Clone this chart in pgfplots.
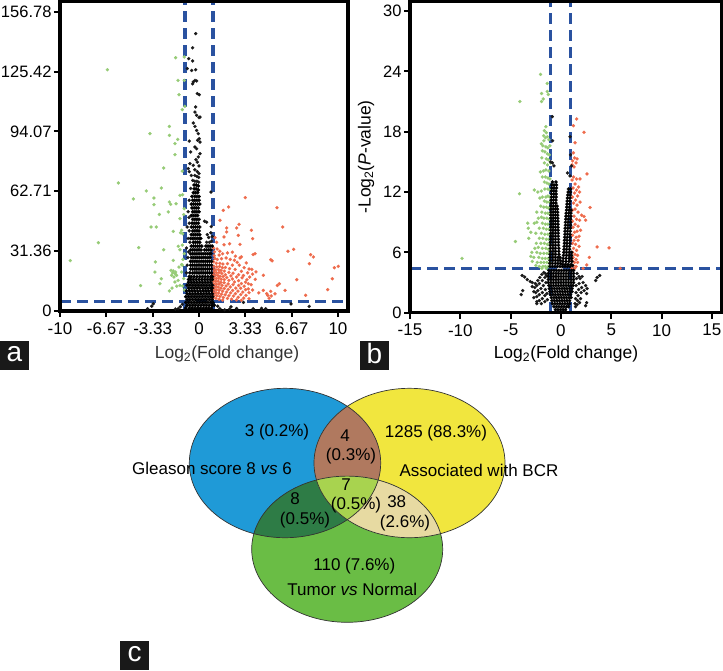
\documentclass[border=0pt]{standalone}
\usepackage{fontspec}
\setmainfont{Liberation Sans}
\usepackage{pgfplots}
\pgfplotsset{compat=1.18}

\definecolor{upred}{HTML}{EE6B4C}
\definecolor{downgreen}{HTML}{96CB76}
\definecolor{cutblue}{HTML}{2A52A0}
\definecolor{vblue}{HTML}{1F9AD7}
\definecolor{vyellow}{HTML}{F1E63E}
\definecolor{vgreen}{HTML}{6ABD45}
\definecolor{vbrown}{HTML}{B0795F}
\definecolor{vdark}{HTML}{2E7C46}
\definecolor{vpale}{HTML}{E7DAA2}
\definecolor{vmid}{HTML}{A8D34F}

\pgfplotsset{
  volcano/.style={
    scale only axis,
    axis line style={line width=3.2pt},
    axis on top,
    tick style={line width=2pt,black},
    major tick length=6pt,
    tick align=outside,
    xtick pos=bottom,
    ytick pos=left,
    clip=true,
    x tick label style={font=\fontsize{17}{19}\selectfont,yshift=-2pt},
    y tick label style={font=\fontsize{16.5}{19}\selectfont,xshift=1pt},
    xlabel style={font=\fontsize{17.5}{20}\selectfont},
    ylabel style={font=\fontsize{17.5}{20}\selectfont},
  },
  upset/.style={only marks,mark=*,mark size=1.6pt,mark options={draw=upred,line width=0.2pt,fill=upred}},
  downset/.style={only marks,mark=*,mark size=1.6pt,mark options={draw=downgreen,line width=0.2pt,fill=downgreen}},
  nssparse/.style={only marks,mark=*,mark size=1.6pt,mark options={draw=black!90,line width=0.2pt,fill=black!90}},
  nsdense/.style={only marks,mark=*,mark size=#1,mark options={draw=black,line width=0.2pt,fill=black}},
  cutline/.style={no marks,cutblue,line width=3.6pt,dash pattern=on 11pt off 6pt},
}

\begin{document}
\begin{tikzpicture}
\path[use as bounding box] (0,0) rectangle (723pt,670pt);

% panel a
\begin{axis}[volcano,
  at={(60pt,359pt)},anchor=south west,
  width=288pt,height=310pt,
  xmin=-10,xmax=10.72,ymin=0,ymax=162.4,
  xtick={-10,-6.67,-3.33,0,3.33,6.67,10},
  xticklabels={-10,-6.67,-3.33,0,3.33,6.67,10},
  ytick={0,31.36,62.71,94.07,125.42,156.78},
  yticklabels={0,31.36,62.71,94.07,125.42,156.78},
  xlabel={\textcolor{black!80}{Log\textsubscript{2}(Fold change)}},
  xlabel style={at={(axis description cs:0.58,-0.139)},anchor=center},
]
\addplot[downset] coordinates {
(-6.59,126.4)(-1.68,132.7)(-1.06,133.1)(-1.51,120.8)(-1.06,120.8)(-1.44,113.3)(-1.2,105.5)(-1.02,107.2)
(-3.53,92.9)(-2.13,96.7)(-2.13,92)(-1.53,89.9)(-1.73,87.7)(-1.73,81.9)(-2.54,74.9)(-1.2,73.3)
(-5.8,67.1)(-2.71,64.4)(-3.79,62.9)(-4.72,58.7)(-3.24,59.2)(-3.24,55.7)(-2.13,57.1)(-2.04,55.9)
(-1.65,56.2)(-1.37,60.6)(-1.18,60.9)(-2.85,50.6)(-2.21,51.9)(-1.37,48.4)(-1.06,53.6)(-1.1,50.5)(-3.45,44)
(-3.07,44)(-1.85,41.7)(-1.25,42.3)(-1.18,40.5)(-1.33,41)(-7.24,35.8)(-4.34,33.2)(-2.54,32.1)(-1.49,33.9)
(-1.37,32.1)(-1.06,30)(-1.2,34.5)(-9.26,26.4)(-3.14,25.7)(-1.85,26.5)(-1.25,24.3)(-1.44,23)(-3.17,20.4)
(-2.01,21.3)(-1.85,21)(-1.68,20.4)(-1.97,18.7)(-1.8,17.8)(-1.61,18.7)(-1.25,20.4)(-2.71,16.9)
(-1.73,15.2)(-1.37,13.4)(-1.18,13.1)(-4.2,13.3)(-2.81,14.3)(-1.94,12)(-2.13,10.5)(-1.72,19.5)(-1.9,20)
(-1.15,27)(-1.1,17)(-1.5,16)(-1.05,11)(-1.2,24)(-1.6,13)
};
\addplot[upset] coordinates {
(3.33,59.4)(5.61,54.1)(2.13,54.5)(1.75,52.7)(6.02,44)(2.88,45.4)(2.71,43.5)(1.99,43.5)(1.51,47.5)
(3.77,42.3)(1.99,41.4)(1.8,38.8)(2.83,39.6)(3.86,37.9)(1.15,38.4)(1.27,36)(1.8,34.7)(2.2,35.2)(2.95,34.9)
(6.81,32.3)(6.4,31.3)(8.03,29.5)(8.23,28.3)(7.94,24.8)(10.02,23.4)(9.74,22.7)(9.59,16.9)(9.26,11.2)
(4.03,30)(3.9,29.6)(5.16,26.9)(5.26,26.3)(4.63,18.7)(7.03,16.4)(5.78,14.3)(5.64,13.4)(4.63,10.8)(4.87,9.1)
(5.16,10.3)(5.47,9)(5.05,6.7)(6.19,10.8)(7.67,8.2)(5.2,7.9)(4.95,8.1)(3.55,14.3)
(1.05,33)(1.12,31)(1.3,32.5)(1.5,31.3)(1.1,29)(1.45,29.3)(1.7,30)(2.05,30.4)(2.4,30.8)(2.62,28.7)(2.95,27.8)(3.05,28.4)
(1.15,27.5)(1.32,27)(1.62,27.4)(1.95,27.8)(2.25,27)(2.55,26.6)(2.75,25.5)(3.4,25.2)(3.6,22)
(1.05,25.8)(1.25,25)(1.5,25)(1.72,24.6)(2.05,24.8)(2.4,24)(2.9,24)(3.25,22.7)(3.8,21.8)(4.1,20.5)
(1.08,23.4)(1.28,23.1)(1.48,23.3)(1.68,22.7)(1.9,22.8)(2.2,22.2)(2.6,21.8)(3.05,20.8)(3.5,20)(3.85,19.3)
(1.03,21.9)(1.2,21.5)(1.4,21.7)(1.58,21.2)(1.82,20.9)(2.15,20.2)(2.45,19.8)(2.85,19)(3.2,18.6)(3.65,17.8)
(1.08,20.3)(1.26,20)(1.44,20.2)(1.64,19.7)(1.9,19)(2.3,18.4)(2.7,17.8)(3.1,17.4)(3.45,16.4)(4.05,16.6)
(1.02,18.8)(1.18,18.6)(1.36,18.7)(1.52,18.2)(1.74,18.1)(2,17.5)(2.4,16.8)(2.85,15.9)(3.35,15.1)
(1.08,17.2)(1.25,17)(1.42,17.2)(1.6,16.6)(1.82,16.4)(2.15,16)(2.55,15.2)(3.05,14.4)(3.75,13.8)
(1.03,15.7)(1.2,15.5)(1.38,15.6)(1.58,15)(1.8,14.8)(2.1,14.2)(2.45,13.8)(2.85,13.4)(3.25,13)(3.55,11.6)
(1.08,14.2)(1.26,14)(1.45,14.1)(1.66,13.4)(1.95,13.1)(2.25,12.6)(2.65,12)(3,11.9)(3.35,11.2)(3.85,11)
(1.02,12.8)(1.2,12.6)(1.38,12.5)(1.58,12)(1.82,11.8)(2.1,11.3)(2.42,10.8)(2.8,10.4)(3.15,9.9)(3.6,9.6)
(1.08,11.3)(1.26,11)(1.46,10.9)(1.7,10.4)(1.98,9.9)(2.28,9.5)(2.62,9.1)(3,8.6)(3.38,8.2)(4.3,9.5)
(1.03,9.8)(1.2,9.5)(1.4,9.4)(1.62,8.8)(1.88,8.5)(2.15,8)(2.48,7.8)(2.82,7.2)(3.22,6.8)(3.6,6.4)
(1.08,8.3)(1.28,8)(1.5,7.6)(1.75,7.1)(2.05,6.6)(2.35,6.2)(2.7,5.8)(3.05,5.6)
(1.02,6.9)(1.22,6.6)(1.45,6.1)(1.7,5.7)
};
\addplot[nssparse] coordinates {
(-0.24,145.3)(-0.46,137.9)(-0.74,132.2)(-0.46,131)(-0.53,126)(-0.24,126.4)(-0.84,127)(-0.41,120)(-0.17,120.5)
(-0.29,120.8)(-0.46,119)(-0.12,113.9)(0.02,113.3)(-0.24,106.9)(-0.29,104.2)(-0.17,102.5)(0,101.3)(0.07,101.6)
(-0.41,98.5)(-0.29,96.7)(-0.17,94.6)(-0.05,92.9)(0.02,90.3)(-0.1,89.4)(0.07,88.5)(-0.7,89)(-0.29,85.9)(-0.17,85)
(-0.6,83.3)(0.07,82.4)(-0.05,80.7)(-0.22,79.3)(-0.65,77.2)(-0.41,76.3)(-0.77,74.6)(-0.12,78)(0,76)(-0.3,74)
(-0.7,73)(-0.12,73)(0,72)(-0.55,71)(-0.3,71)(-0.15,70.5)(-0.02,70)(-0.45,68.4)(-0.3,68)(-0.15,68)(-0.02,67.5)
(-0.6,64.2)(0.86,62.3)(-0.7,58)(0.4,47)(-0.7,46)(0.55,46.5)(0.88,44.2)(-0.7,42)(0.85,41)(0.6,40)(0.7,38.5)(0.95,39)
(-0.65,36)(0.55,36)(0.75,36)(0.9,36.5)(-0.8,28)(-0.85,24)(-0.9,20)(-0.78,52)(-0.72,49)(-0.85,44)(-0.78,38)(-0.9,33)(-0.75,31)
(-3.29,3.8)(-3.4,2.5)(-3.7,1.2)(-1.7,1)(-1.5,1.2)(-1.35,2.2)(-1.2,3.5)(1.35,2.5)(1.5,1.2)(1.85,0.6)(2.3,2.2)(2.7,1.3)(3.2,4.5)
(3.9,1.2)(4.5,1.4)(4.8,1.2)(6.62,3.7)(7.93,2.4)(2.2,1)
};
\addplot[nsdense=1.8pt] coordinates {
(-0.35,66)(-0.2,66)(-0.05,65.5)(-0.35,64)(-0.2,64)(-0.05,63.4)(-0.4,62)(-0.25,62)(-0.1,62)
(-0.5,60)(-0.3,60)(-0.15,60)(0,60)(-0.45,58)(-0.3,58)(-0.15,58)(0,58)(-0.55,56)(-0.4,56)(-0.25,56)(-0.1,56)(0.05,56)
(-0.5,54)(-0.35,54)(-0.2,54)(-0.05,54)(-0.45,52)(-0.3,52)(-0.15,52)(0,52)
(-0.55,50)(-0.4,50)(-0.25,50)(-0.1,50)(-0.45,48)(-0.3,48)(-0.15,48)(0,48)
(-0.5,46)(-0.35,46)(-0.2,46)(-0.05,46)(-0.55,44)(-0.4,44)(-0.25,44)(-0.1,44)(0.05,44)
(-0.45,42)(-0.3,42)(-0.15,42)(0,42)(-0.55,40)(-0.4,40)(-0.25,40)(-0.1,40)(0.05,40)
(-0.6,38)(-0.45,38)(-0.3,38)(-0.15,38)(0,38)(0.12,38)
(-0.4,36)(-0.25,36)(-0.1,36)(0.05,36)
(-0.55,34)(-0.4,34)(-0.25,34)(-0.1,34)(0.05,34)(0.2,34)(0.5,34)(0.65,34)(0.8,34)(0.95,34)
(-0.6,32)(-0.45,32)(-0.3,32)(-0.15,32)(0,32)(0.15,32)(0.4,32)(0.55,32)(0.7,32)(0.85,32)
(-0.6,30)(-0.45,30)(-0.3,30)(-0.15,30)(0,30)(0.15,30)(0.3,30)(0.45,30)(0.6,30)(0.75,30)(0.85,30)
(-0.55,28)(-0.4,28)(-0.25,28)(-0.1,28)(0.05,28)(0.2,28)(0.35,28)(0.5,28)(0.65,28)(0.8,28)
(-0.6,26)(-0.45,26)(-0.3,26)(-0.15,26)(0,26)(0.15,26)(0.3,26)(0.45,26)(0.6,26)(0.75,26)(0.9,26)
(-0.6,24)(-0.45,24)(-0.3,24)(-0.15,24)(0,24)(0.15,24)(0.3,24)(0.45,24)(0.6,24)(0.75,24)(0.9,24)
(-0.6,22)(-0.45,22)(-0.3,22)(-0.15,22)(0,22)(0.15,22)(0.3,22)(0.45,22)(0.6,22)(0.75,22)(0.9,22)
(-0.65,20)(-0.45,20)(-0.3,20)(-0.15,20)(0,20)(0.15,20)(0.3,20)(0.45,20)(0.6,20)(0.75,20)(0.9,20)
(-0.7,18)(-0.55,18)(-0.35,18)(-0.15,18)(0.05,18)(0.25,18)(0.45,18)(0.65,18)(0.85,18)(0.95,18)
(-0.75,16.5)(-0.6,16.5)(-0.4,16.5)(-0.2,16.5)(0,16.5)(0.2,16.5)(0.4,16.5)(0.6,16.5)(0.8,16.5)(0.95,16.5)
(-0.75,15)(-0.55,15)(-0.35,15)(-0.15,15)(0.05,15)(0.25,15)(0.45,15)(0.65,15)(0.85,15)
(-0.85,13.5)(-0.65,13.5)(-0.45,13.5)(-0.25,13.5)(-0.05,13.5)(0.15,13.5)(0.35,13.5)(0.55,13.5)(0.75,13.5)(0.95,13.5)
(-0.75,12)(-0.55,12)(-0.35,12)(-0.15,12)(0.05,12)(0.25,12)(0.45,12)(0.65,12)(0.85,12)(0.95,12)
(-0.9,10.5)(-0.7,10.5)(-0.5,10.5)(-0.3,10.5)(-0.1,10.5)(0.1,10.5)(0.3,10.5)(0.5,10.5)(0.7,10.5)(0.9,10.5)
(-0.85,9)(-0.65,9)(-0.45,9)(-0.25,9)(-0.05,9)(0.15,9)(0.35,9)(0.55,9)(0.75,9)(0.95,9)
(-0.95,7.5)(-0.75,7.5)(-0.55,7.5)(-0.35,7.5)(-0.15,7.5)(0.05,7.5)(0.25,7.5)(0.45,7.5)(0.65,7.5)(0.85,7.5)(0.98,7.5)
(-0.85,6)(-0.65,6)(-0.45,6)(-0.25,6)(-0.05,6)(0.15,6)(0.35,6)(0.55,6)(0.75,6)(0.95,6)
(-0.95,4.5)(-0.75,4.5)(-0.55,4.5)(-0.35,4.5)(-0.15,4.5)(0.05,4.5)(0.25,4.5)(0.45,4.5)(0.65,4.5)(0.85,4.5)(1,4.5)
(-0.85,3)(-0.65,3)(-0.45,3)(-0.25,3)(-0.05,3)(0.15,3)(0.35,3)(0.55,3)(0.75,3)(0.95,3)(1.1,3)
(-0.95,1.5)(-0.7,1.5)(-0.5,1.5)(-0.3,1.5)(-0.1,1.5)(0.1,1.5)(0.3,1.5)(0.5,1.5)(0.7,1.5)(0.9,1.5)
};
\addplot[cutline] coordinates {(-1,0) (-1,162.4)};
\addplot[cutline] coordinates {(1,0) (1,162.4)};
\addplot[cutline] coordinates {(-10,4.9) (10.72,4.9)};
\end{axis}

% panel b
\begin{axis}[volcano,
  at={(410pt,357.3pt)},anchor=south west,
  width=312pt,height=311.7pt,
  xmin=-15,xmax=16,ymin=0,ymax=31,
  xtick={-15,-10,-5,0,5,10,15},
  xticklabels={-15,-10,-5,0,5,10,15},
  ytick={0,6,12,18,24,30},
  yticklabels={0,6,12,18,24,30},
  xlabel={Log\textsubscript{2}(Fold change)},
  xlabel style={yshift=-3pt},
  ylabel={-Log\textsubscript{2}(\textit{P}-value)},
  ylabel style={yshift=2pt},
]
\addplot[downset] coordinates {
(-9.83,5.4)(-4.52,7.08)(-4.09,21)(-4.12,11.83)(-2.03,23.7)(-1.36,22.8)(-1.93,21.8)(-1.26,21.7)(-1.36,22)(-1.76,21.26)(-1.93,21)
(-1.5,18.5)(-1.65,18.1)(-1.45,17.9)(-1.72,17.6)(-1.55,17.4)(-1.35,17.5)(-1.7,17.1)(-1.2,17.2)(-1.95,16.8)(-1.8,16.6)
(-1.5,16.5)(-1.3,16.4)(-1.1,16.6)(-1.85,16.1)(-1.6,16)(-1.35,15.8)(-1.15,15.7)(-1.9,15.4)(-1.45,15.3)(-1.25,15.2)
(-1.65,14.9)(-1.05,14.9)(-1.35,14.7)(-2.05,14)(-1.75,14.1)(-1.5,14.2)(-1.2,14.1)(-1.85,13.5)(-1.55,13.5)(-1.3,13.4)(-1.1,13.3)
(-1.65,13)(-1.4,12.9)(-1.2,12.8)(-2.65,12.2)(-2.3,12)(-1.95,12.1)(-1.6,12.3)(-1.3,12.3)(-1.1,12.2)
(-2.1,11.4)(-1.85,11.5)(-1.5,11.5)(-1.3,11.6)(-1.1,11.5)(-1.65,11.1)(-1.4,11)(-1.15,11)
(-2,10.6)(-1.7,10.5)(-1.45,10.5)(-1.25,10.4)(-1.05,10.5)(-2.4,10)(-1.9,10)(-1.55,9.9)(-1.3,9.9)(-1.1,9.8)
(-2.25,9.4)(-1.95,9.5)(-1.7,9.4)(-1.4,9.4)(-1.15,9.3)(-3.3,8.9)(-2.65,8.9)(-2.4,9)(-1.85,8.9)(-1.55,8.8)(-1.3,8.8)(-1.05,8.8)
(-3.25,8.4)(-2.15,8.4)(-1.75,8.4)(-1.45,8.3)(-1.2,8.3)(-3,8)(-2.5,7.9)(-1.95,7.9)(-1.6,7.8)(-1.3,7.8)(-1.1,7.8)
(-3.2,7.4)(-2.15,7.4)(-1.8,7.4)(-1.45,7.3)(-1.2,7.3)(-2.45,6.9)(-2,6.9)(-1.65,6.9)(-1.35,6.8)(-1.1,6.8)
(-2.6,6.4)(-2.25,6.5)(-1.85,6.4)(-1.5,6.4)(-1.25,6.3)(-2.9,6)(-2.4,6)(-2.05,5.9)(-1.7,5.9)(-1.4,5.9)(-1.15,5.9)
(-3,5.6)(-2.7,5.5)(-2.2,5.5)(-1.85,5.4)(-1.55,5.4)(-1.25,5.4)(-2.85,5.1)(-2.35,5)(-2,5)(-1.7,5)(-1.4,5)(-1.1,5)
(-2.5,4.7)(-2.15,4.6)(-1.8,4.6)(-1.55,4.6)(-1.25,4.6)(-1.9,4.4)(-1.45,4.4)
};
\addplot[upset] coordinates {
(1.56,19.27)(1.23,18.6)(2.29,17.94)(1.4,16.9)(1.23,15.9)(1.6,15.3)(1.35,15.4)(1.15,15.1)(1.5,14.9)(1.1,14.7)(1.3,14.5)
(2.59,13.8)(1.89,13.3)(1.55,13.3)(1.25,13.5)(1.1,13.2)(1.4,12.8)(1.75,12.5)(1.2,12.4)(1.55,12.2)(1.85,12)(1.35,11.9)(1.65,11.6)
(1.15,11.5)(1.45,11.2)(1.9,11)(1.25,10.9)(1.6,10.7)(2.89,10.46)(1.4,10.3)(1.15,10.2)(1.7,10)(2.29,9.57)(2.05,9.7)(1.3,9.6)
(1.55,9.3)(1.85,9.2)(1.15,9.1)(2.45,9.2)(1.4,8.8)(1.7,8.6)(1.2,8.5)(1.6,8.1)(1.35,8)(1.95,8.2)(1.15,7.7)(1.8,7.6)(1.5,7.5)(1.3,7.2)
(1.7,7.2)(1.15,6.9)(1.45,6.8)(3.59,6.54)(4.78,6.45)(1.8,6.6)(1.25,6.4)(1.55,6.2)(1.15,6)(1.4,5.8)(1.65,5.7)
(1.2,5.5)(1.5,5.3)(2.82,5.5)(1.1,5.2)(1.35,5)(1.65,5)(2.56,4.75)(1.2,4.7)(1.5,4.6)(1.1,4.4)(1.35,4.4)(5.88,4.42)(2.2,4.4)
};
\addplot[nssparse] coordinates {
(-0.86,19.5)(-0.83,17.1)(0.9,17.5)(-1.02,15)(-0.85,14.9)(-0.7,14.6)(0.95,15.7)(1.05,14.6)(0.65,13.9)(0.9,13.6)
(-3.95,1.8)(-3.8,2.2)(-3.85,3.7)(-3.6,3.55)(-3.35,3.3)(-3.05,3.1)(-2.85,3)(-2.55,2.9)(-2.3,3.2)(-2.1,3.5)(-1.9,3.8)(-1.7,4)
(-2.85,2.6)(-2.6,2.5)(-2.4,2.7)(-2.15,2.9)(-1.85,3.2)(-1.6,3.5)(-1.45,3.7)(-2.7,2.1)(-2.5,2)(-2.3,2.2)(-2,2.4)(-1.75,2.7)(-1.5,3)
(-2.7,1.5)(-2.4,1.6)(-2.15,1.8)(-1.85,2)(-1.55,2.3)(-2.4,1.1)(-2.15,1.2)(-1.85,1.4)(-1.6,1.7)(-1.4,1.9)(-2.4,0.9)(-1.95,0.9)(-1.6,1.1)(-1.35,1.3)(-1.55,3.9)
(3.85,3.7)(3.6,3.5)(3.45,3.2)(1.6,3.9)(1.9,3.4)(2.2,3)(2.45,2.7)(2.6,2.4)(1.55,3.4)(1.8,2.9)(2.05,2.5)(2.3,2.2)(2.55,1.9)(1.5,2.7)(1.75,2.3)(2,2)(1.5,2)(1.7,1.7)(1.95,1.4)
(1.45,1.4)(1.65,1.2)(1.85,1)(2.55,1)(2.45,0.7)(1.4,0.9)(1.6,0.8)(1.45,0.6)(1.8,3.6)(2.1,3.6)
};
\addplot[nsdense=1.7pt] coordinates {
(-0.85,13)(-0.5,13)(-0.92,12.7)(-0.7,12.7)(-0.45,12.7)(-0.9,12.4)(-0.68,12.4)(-0.45,12.4)(0.75,12.3)(0.95,12.3)
(-0.95,12.1)(-0.72,12.1)(-0.5,12.1)(0.72,12)(0.95,12)(-0.95,11.8)(-0.7,11.8)(-0.48,11.8)(0.68,11.7)(0.92,11.7)
(-0.95,11.5)(-0.72,11.5)(-0.48,11.5)(0.65,11.4)(0.9,11.4)(-0.98,11.2)(-0.75,11.2)(-0.5,11.2)(0.62,11.1)(0.88,11.1)
(-0.98,10.9)(-0.75,10.9)(-0.5,10.9)(0.6,10.8)(0.85,10.8)(-1,10.6)(-0.78,10.6)(-0.55,10.6)(-0.38,10.6)(0.58,10.5)(0.85,10.5)
(-1,10.3)(-0.78,10.3)(-0.55,10.3)(-0.35,10.3)(0.55,10.2)(0.8,10.2)(1,10.2)(-1,10)(-0.78,10)(-0.55,10)(-0.33,10)(0.52,9.9)(0.78,9.9)(0.98,9.9)
(-1,9.7)(-0.78,9.7)(-0.55,9.7)(-0.33,9.7)(0.5,9.6)(0.75,9.6)(0.98,9.6)(-1,9.4)(-0.78,9.4)(-0.55,9.4)(-0.32,9.4)(0.48,9.3)(0.72,9.3)(0.95,9.3)
(-1,9.1)(-0.78,9.1)(-0.55,9.1)(-0.3,9.1)(0.45,9)(0.7,9)(0.95,9)(-1,8.8)(-0.78,8.8)(-0.55,8.8)(-0.3,8.8)(0.45,8.7)(0.7,8.7)(0.95,8.7)
(-1,8.5)(-0.78,8.5)(-0.55,8.5)(-0.3,8.5)(0.42,8.4)(0.68,8.4)(0.93,8.4)(-1.02,8.2)(-0.8,8.2)(-0.55,8.2)(-0.28,8.2)(0.4,8.1)(0.65,8.1)(0.92,8.1)
(-1.02,7.9)(-0.8,7.9)(-0.55,7.9)(-0.27,7.9)(0.4,7.8)(0.65,7.8)(0.9,7.8)(-1.02,7.6)(-0.8,7.6)(-0.55,7.6)(-0.27,7.6)(0.38,7.5)(0.62,7.5)(0.9,7.5)
(-1.02,7.3)(-0.8,7.3)(-0.55,7.3)(-0.25,7.3)(0.35,7.2)(0.6,7.2)(0.88,7.2)(-1.05,7)(-0.8,7)(-0.55,7)(-0.25,7)(0.35,6.9)(0.6,6.9)(0.88,6.9)
(-1.05,6.7)(-0.8,6.7)(-0.55,6.7)(-0.25,6.7)(0.32,6.6)(0.58,6.6)(0.85,6.6)(-1.05,6.4)(-0.8,6.4)(-0.55,6.4)(-0.22,6.4)(0.3,6.3)(0.55,6.3)(0.85,6.3)
(-1.05,6.1)(-0.8,6.1)(-0.55,6.1)(-0.22,6.1)(0.28,6)(0.55,6)(0.82,6)(1.05,6)(-1.08,5.8)(-0.82,5.8)(-0.55,5.8)(-0.2,5.8)(0.25,5.7)(0.55,5.7)(0.82,5.7)(1.05,5.7)
(-1.08,5.5)(-0.82,5.5)(-0.55,5.5)(-0.3,5.5)(-0.1,5.5)(0.22,5.4)(0.5,5.4)(0.8,5.4)(1.05,5.4)(-1.08,5.2)(-0.82,5.2)(-0.55,5.2)(-0.3,5.2)(-0.08,5.2)(0.2,5.1)(0.5,5.1)(0.8,5.1)(1.08,5.1)
(-1.1,4.9)(-0.85,4.9)(-0.55,4.9)(-0.3,4.9)(-0.05,4.9)(0.18,4.8)(0.45,4.8)(0.72,4.8)(1,4.8)(1.15,4.7)(-1.1,4.6)(-0.85,4.6)(-0.6,4.6)(-0.35,4.6)(-0.1,4.6)(0.15,4.6)(0.4,4.6)(0.65,4.6)(0.9,4.6)
(-1.2,4.2)(-0.95,4.2)(-0.7,4.2)(-0.45,4.2)(-0.2,4.2)(0.05,4.2)(0.3,4.2)(0.55,4.2)(0.8,4.2)(1.05,4.2)(1.25,4.2)
(-1.25,3.9)(-1,3.9)(-0.75,3.9)(-0.5,3.9)(-0.25,3.9)(0,3.9)(0.25,3.9)(0.5,3.9)(0.75,3.9)(1,3.9)(1.25,3.9)
(-1.25,3.6)(-1,3.6)(-0.75,3.6)(-0.5,3.6)(-0.25,3.6)(0,3.6)(0.25,3.6)(0.5,3.6)(0.75,3.6)(1,3.6)(1.25,3.6)
(-1.25,3.3)(-1,3.3)(-0.75,3.3)(-0.5,3.3)(-0.25,3.3)(0,3.3)(0.25,3.3)(0.5,3.3)(0.75,3.3)(1,3.3)(1.25,3.3)
(-1.25,3)(-1,3)(-0.75,3)(-0.5,3)(-0.25,3)(0,3)(0.25,3)(0.5,3)(0.75,3)(1,3)(1.25,3)
(-1.2,2.7)(-1,2.7)(-0.75,2.7)(-0.5,2.7)(-0.25,2.7)(0,2.7)(0.25,2.7)(0.5,2.7)(0.75,2.7)(1,2.7)(1.2,2.7)
(-1.15,2.4)(-0.9,2.4)(-0.65,2.4)(-0.4,2.4)(-0.15,2.4)(0.1,2.4)(0.35,2.4)(0.6,2.4)(0.85,2.4)(1.1,2.4)
(-1.1,2.1)(-0.85,2.1)(-0.6,2.1)(-0.35,2.1)(-0.1,2.1)(0.15,2.1)(0.4,2.1)(0.65,2.1)(0.9,2.1)(1.1,2.1)
(-1.05,1.8)(-0.8,1.8)(-0.55,1.8)(-0.3,1.8)(-0.05,1.8)(0.2,1.8)(0.45,1.8)(0.7,1.8)(0.95,1.8)
(-0.95,1.5)(-0.7,1.5)(-0.45,1.5)(-0.2,1.5)(0.05,1.5)(0.3,1.5)(0.55,1.5)(0.8,1.5)(1,1.5)
(-0.9,1.2)(-0.65,1.2)(-0.4,1.2)(-0.15,1.2)(0.1,1.2)(0.35,1.2)(0.6,1.2)(0.85,1.2)
(-0.85,0.9)(-0.6,0.9)(-0.35,0.9)(-0.1,0.9)(0.15,0.9)(0.4,0.9)(0.65,0.9)(0.85,0.9)
(-0.7,0.6)(-0.45,0.6)(-0.2,0.6)(0.05,0.6)(0.3,0.6)(0.55,0.6)(0.75,0.6)
(-0.55,0.3)(-0.3,0.3)(-0.05,0.3)(0.2,0.3)(0.45,0.3)(-0.3,0.05)(0,0.05)(0.25,0.05)
};
\addplot[cutline] coordinates {(-1.03,0) (-1.03,31)};
\addplot[cutline] coordinates {(0.95,0) (0.95,31)};
\addplot[cutline] coordinates {(-15,4.39) (16,4.39)};
\end{axis}

% venn diagram and panel letters, in image pixel coordinates
\begin{axis}[
  at={(0,0)},anchor=south west,
  scale only axis,width=723pt,height=670pt,
  xmin=0,xmax=723,ymin=0,ymax=670,y dir=reverse,
  hide axis,clip=false,
]
\fill[vblue] (285,463) ellipse [x radius=95.7,y radius=74.7];
\fill[vyellow] (409.5,463) ellipse [x radius=95.5,y radius=74.7];
\fill[vgreen] (347.2,549.2) ellipse [x radius=95.5,y radius=73.1];
\begin{scope}
\clip (285,463) ellipse [x radius=95.7,y radius=74.7];
\fill[vbrown] (409.5,463) ellipse [x radius=95.5,y radius=74.7];
\fill[vdark] (347.2,549.2) ellipse [x radius=95.5,y radius=73.1];
\end{scope}
\begin{scope}
\clip (409.5,463) ellipse [x radius=95.5,y radius=74.7];
\clip (347.2,549.2) ellipse [x radius=95.5,y radius=73.1];
\fill[vpale] (300,470) rectangle (505,540);
\end{scope}
\begin{scope}
\clip (285,463) ellipse [x radius=95.7,y radius=74.7];
\clip (409.5,463) ellipse [x radius=95.5,y radius=74.7];
\fill[vmid] (347.2,549.2) ellipse [x radius=95.5,y radius=73.1];
\end{scope}
\draw[black!80,line width=0.7pt] (285,463) ellipse [x radius=95.7,y radius=74.7];
\draw[black!80,line width=0.7pt] (409.5,463) ellipse [x radius=95.5,y radius=74.7];
\draw[black!80,line width=0.7pt] (347.2,549.2) ellipse [x radius=95.5,y radius=73.1];
\begin{scope}[every node/.style={inner sep=0pt,font=\fontsize{17}{19}\selectfont}]
\node at (277,431.7) {3 (0.2\%)};
\node at (345,435.7) {4};
\node at (351,456) {(0.3\%)};
\node at (436,433.3) {1285 (88.3\%)};
\node at (212,468.7) {Gleason score 8 \textit{vs} 6};
\node at (479,470) {Associated with BCR};
\node at (346,485) {7};
\node at (295,498.3) {8};
\node at (305,520) {(0.5\%)};
\node at (356,505) {(0.5\%)};
\node at (396.7,501.7) {38};
\node at (405,522.7) {(2.6\%)};
\node at (354.3,565.7) {110 (7.6\%)};
\node at (352.3,589) {Tumor \textit{vs} Normal};
\end{scope}
\fill[black!90] (0,340.7) rectangle (29,370);
\fill[black!90] (360,340.7) rectangle (389,370);
\fill[black!90] (120,641) rectangle (149,670);
\begin{scope}[every node/.style={inner sep=0pt,white,font=\fontsize{28}{30}\selectfont}]
\node at (14.5,354) {a};
\node at (374.5,353) {b};
\node at (134.5,654) {c};
\end{scope}
\end{axis}
\end{tikzpicture}
\end{document}
